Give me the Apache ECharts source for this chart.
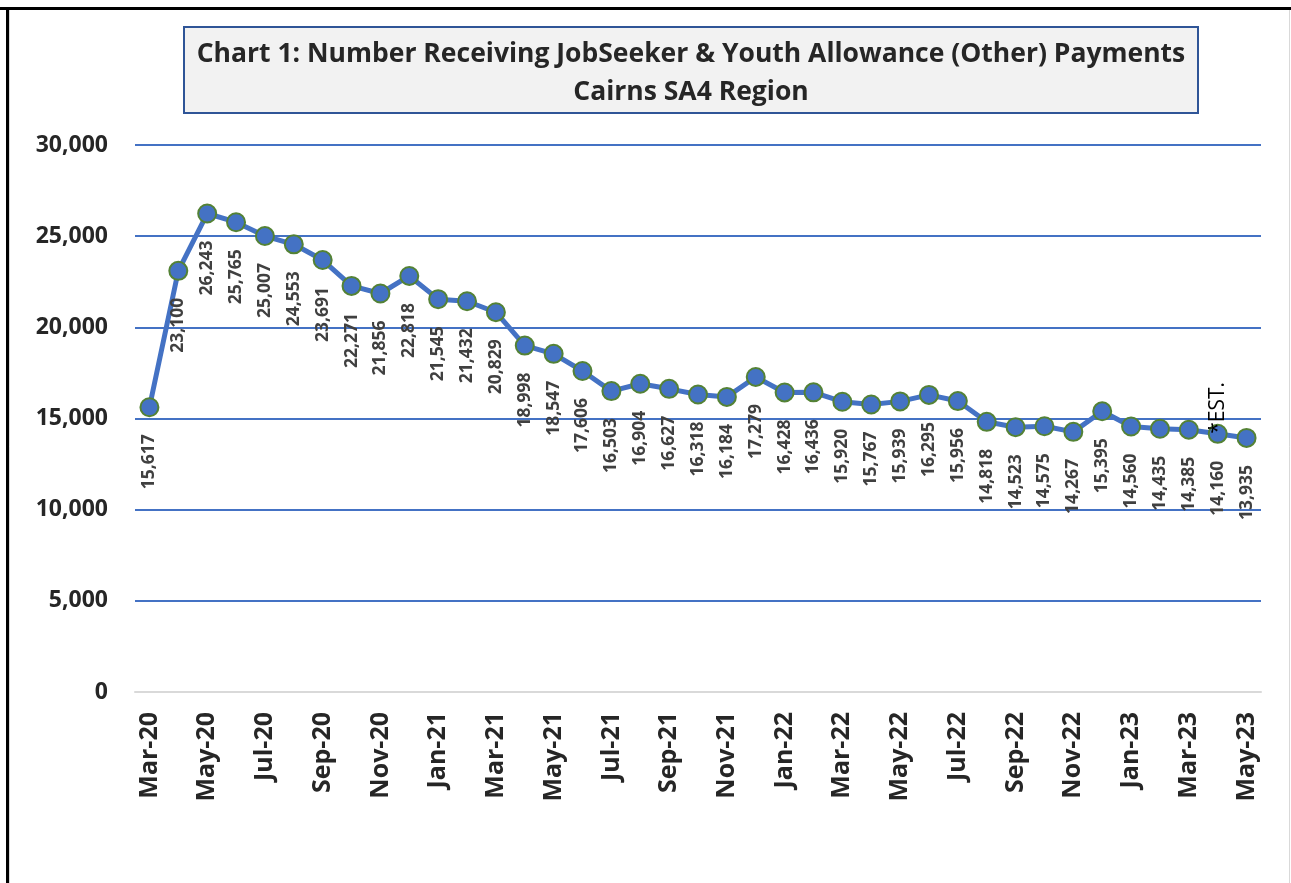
<!DOCTYPE html>
<html>
<head>
<meta charset="utf-8">
<script src="https://cdn.jsdelivr.net/npm/echarts@6/dist/echarts.min.js"></script>
<style>
html,body{margin:0;padding:0;background:#fff;}
#chart{width:1291px;height:883px;}
</style>
</head>
<body>
<div id="chart"></div>
<script>
const titleLines = ['Chart 1: Number Receiving JobSeeker & Youth Allowance (Other) Payments', 'Cairns SA4 Region'];
const months = ['Mar-20','Apr-20','May-20','Jun-20','Jul-20','Aug-20','Sep-20','Oct-20','Nov-20','Dec-20',
  'Jan-21','Feb-21','Mar-21','Apr-21','May-21','Jun-21','Jul-21','Aug-21','Sep-21','Oct-21','Nov-21','Dec-21',
  'Jan-22','Feb-22','Mar-22','Apr-22','May-22','Jun-22','Jul-22','Aug-22','Sep-22','Oct-22','Nov-22','Dec-22',
  'Jan-23','Feb-23','Mar-23','Apr-23','May-23'];
const recipients = [15617,23100,26243,25765,25007,24553,23691,22271,21856,22818,
  21545,21432,20829,18998,18547,17606,16503,16904,16627,16318,16184,17279,
  16428,16436,15920,15767,15939,16295,15956,14818,14523,14575,14267,15395,
  14560,14435,14385,14160,13935];
const yTicks = [0,5000,10000,15000,20000,25000,30000];
const estimateMonth = 'Apr-23';
const estimateNote = '*EST.';

const FONT = 'Open Sans';
const fmt = v => Number(v).toLocaleString('en-US');
const estIdx = months.indexOf(estimateMonth);

const chart = echarts.init(document.getElementById('chart'), null, {renderer:'canvas'});
chart.setOption({
  backgroundColor:'#ffffff',
  animation:false,
  graphic:[
    {type:'rect', shape:{x:9.5,y:9.5,width:1280,height:880}, style:{fill:'none', stroke:'#d9d9d9', lineWidth:1}, z:0},
    {type:'rect', shape:{x:0,y:7,width:1291,height:3}, style:{fill:'#000'}, z:1},
    {type:'rect', shape:{x:6,y:7,width:3,height:876}, style:{fill:'#000'}, z:1},
    {type:'rect', shape:{x:184,y:27,width:1014,height:86}, style:{fill:'#f2f2f2', stroke:'#2f5597', lineWidth:2}, z:1}
  ],
  title:{
    text: titleLines.join('\n'),
    left: 691, top: 35, textAlign:'center', padding:0, z:5,
    textStyle:{fontFamily:FONT, fontWeight:'bold', fontSize:26.5, color:'#262626', lineHeight:38}
  },
  grid:{left:135, right:30, top:145, bottom:191},
  xAxis:{
    type:'category', data: months, boundaryGap:true,
    axisLine:{show:true, lineStyle:{color:'#d9d9d9', width:2}},
    axisTick:{show:false},
    axisLabel:{interval:1, rotate:90, margin:20, fontFamily:FONT, fontWeight:'bold', fontSize:25, color:'#262626'},
    splitLine:{show:false}
  },
  yAxis:{
    type:'value', min:yTicks[0], max:yTicks[yTicks.length-1], interval:yTicks[1]-yTicks[0],
    axisLine:{show:false}, axisTick:{show:false},
    axisLabel:{margin:27, fontFamily:FONT, fontWeight:'bold', fontSize:23, color:'#262626', formatter: v => fmt(v)},
    splitLine:{show:true, showMinLine:false, lineStyle:{color:'#4472c4', width:2}}
  },
  series:[{
    type:'line', data: recipients,
    lineStyle:{color:'#4472c4', width:5},
    symbol:'circle', symbolSize:18,
    itemStyle:{color:'#4472c4', borderColor:'#548235', borderWidth:2},
    label:{show:true, position:'bottom', distance:17, rotate:90, align:'right', verticalAlign:'middle',
      fontFamily:FONT, fontWeight:'bold', fontSize:17.5, color:'#404040', formatter: p => fmt(p.value)},
    markPoint:{
      symbol:'circle', symbolSize:1, itemStyle:{color:'rgba(0,0,0,0)'},
      label:{show:true, position:'inside', rotate:90, align:'left', verticalAlign:'middle', offset:[0,0],
        fontFamily:FONT, fontSize:21, color:'#000', formatter: estimateNote},
      data:[{coord:[months[estIdx], recipients[estIdx]]}]
    },
    z:3
  }]
});
</script>
</body>
</html>
